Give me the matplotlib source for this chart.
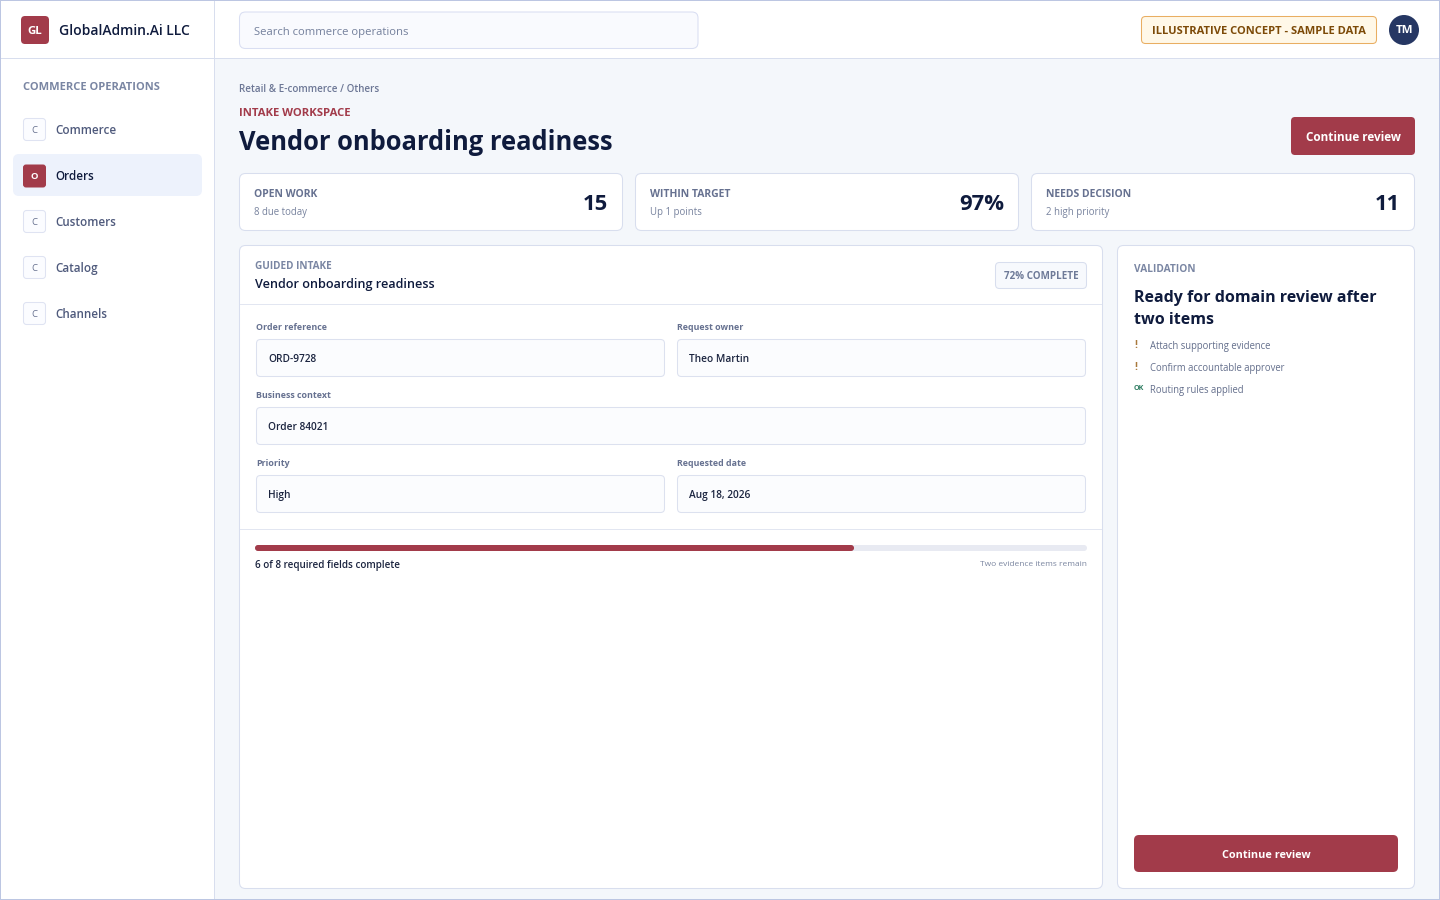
# plot.py - vendor onboarding workspace screen
import matplotlib
matplotlib.use("Agg")
import matplotlib.pyplot as plt
from matplotlib.patches import FancyBboxPatch, Circle, Rectangle

plt.rcParams["font.family"] = ["Open Sans", "DejaVu Sans"]

# Data
company = "GlobalAdmin.Ai LLC"
search_hint = "Search commerce operations"
sample_note = "ILLUSTRATIVE CONCEPT - SAMPLE DATA"
nav_items = ["Commerce", "Orders", "Customers", "Catalog", "Channels"]
nav_icons = ["C", "O", "C", "C", "C"]
active_nav = "Orders"
kpi_labels = ["OPEN WORK", "WITHIN TARGET", "NEEDS DECISION"]
kpi_values = ["15", "97%", "11"]
kpi_notes = ["8 due today", "Up 1 points", "2 high priority"]
field_labels = ["Order reference", "Request owner", "Business context", "Priority", "Requested date"]
field_values = ["ORD-9728", "Theo Martin", "Order 84021", "High", "Aug 18, 2026"]
progress_pct = 72
check_marks = ["!", "!", "OK"]
check_items = ["Attach supporting evidence", "Confirm accountable approver", "Routing rules applied"]

# Colours
RED = "#a23b4a"
NAVY = "#0f1b3d"
SLATE = "#67718f"
LINE = "#d8deee"
BG = "#f4f7fb"

W, H = 1440, 900
fig = plt.figure(figsize=(W / 100, H / 100), dpi=100)
ax = fig.add_axes([0, 0, 1, 1])
ax.set_xlim(0, W)
ax.set_ylim(H, 0)
ax.axis("off")


def box(x0, y0, x1, y1, r=6, fc="white", ec=LINE, lw=0.75, z=2):
    ax.add_patch(FancyBboxPatch((x0 + r, y0 + r), x1 - x0 - 2 * r, y1 - y0 - 2 * r,
                                boxstyle=f"round,pad={r},rounding_size={r}",
                                fc=fc, ec=ec, lw=lw, zorder=z))


def rect(x0, y0, x1, y1, fc, z=1):
    ax.add_patch(Rectangle((x0, y0), x1 - x0, y1 - y0, fc=fc, ec="none", zorder=z))


def txt(x, y, s, px, color=NAVY, weight="normal", ha="left", va="center"):
    # px is the css-like font size, 1px = 0.72pt at dpi 100
    ax.text(x, y + 2, s, fontsize=px * 0.72, color=color, fontweight=weight, ha=ha,
            va=va, zorder=5)


# Page frame
rect(0, 0, W, H, BG, z=0)
rect(0, 0, W, 58, "white")
rect(0, 0, 214, H, "white")
rect(0, 58, W, 59, LINE, z=1.5)
rect(214, 0, 215, H, LINE, z=1.5)
rect(0, 0, W, 1, "#bcc6e2", z=6)
rect(0, 0, 1, H, "#bcc6e2", z=6)
rect(1439, 0, W, H, "#bcc6e2", z=6)
rect(0, 899, W, H, "#bcc6e2", z=6)

# Top bar
box(21, 16, 49, 44, r=4, fc=RED, ec="none")
txt(35, 29.5, "GL", 11.5, "white", "bold", "center")
txt(59, 29, company, 13.9, NAVY, "semibold")
box(239.5, 12, 698, 48.5, r=6, fc="#f9fafe", ec="#d9def2")
txt(254, 30, search_hint, 11.3, "#74809c")
box(1141.5, 16.5, 1376.5, 43.5, r=4, fc="#fff8e8", ec="#e9ae62")
txt(1259, 29, sample_note, 11.1, "#7c4a08", "bold", "center")
ax.add_patch(Circle((1404, 30), 15, fc="#263763", ec="none", zorder=3))
txt(1404, 28.5, "TM", 11.5, "white", "bold", "center")

# Sidebar
txt(23, 85, "COMMERCE OPERATIONS", 11.1, "#7a86a3", "bold")
box(13, 154, 202, 196, r=6, fc="#edf2fc", ec="none")
for i, (item, icon) in enumerate(zip(nav_items, nav_icons)):
    cy = 129.5 + i * 46
    on = item == active_nav
    if on:
        box(23, cy - 11, 46, cy + 12, r=3, fc=RED, ec="none")
    else:
        box(23.5, cy - 11, 45.5, cy + 11, r=3, fc="#fbfcff", ec="#dfe3f2")
    txt(34.5, cy - 1, icon, 9.5, "white" if on else SLATE, "bold" if on else "normal", "center")
    txt(55.5, cy - 1, item, 11.6, NAVY if on else "#4f5a7c", "semibold")

# Heading
txt(239, 87, "Retail & E-commerce / Others", 9.9, "#6c7795", "semibold")
txt(239, 111, "INTAKE WORKSPACE", 11.3, RED, "bold")
txt(239, 141, "Vendor onboarding readiness", 25.5, NAVY, "bold")
box(1291, 117, 1415, 155, r=4, fc=RED, ec="none")
txt(1353, 135.5, "Continue review", 11.8, "white", "bold", "center")

# KPI cards
kpi_x = [(239, 623), (635, 1019), (1031, 1415)]
for (x0, x1), label, value, note in zip(kpi_x, kpi_labels, kpi_values, kpi_notes):
    box(x0 + 0.5, 173.5, x1 - 0.5, 230.5, r=6)
    txt(x0 + 15, 192.4, label, 10.4, "#667190", "bold")
    txt(x0 + 15, 210, note, 9.6, "#78839e")
    txt(x1 - 15, 202, value, 22, NAVY, "bold", "right")

# Intake panel
box(239.5, 245.5, 1102.5, 888.5, r=6)
txt(255, 264.4, "GUIDED INTAKE", 10, "#7a86a3", "bold")
txt(255, 282.4, "Vendor onboarding readiness", 12.6, NAVY, "semibold")
box(995.5, 262.5, 1086.5, 288.5, r=4, fc="#f7f9fd", ec=LINE)
txt(1041, 274.4, "72% COMPLETE", 9.9, "#6e7a98", "bold", "center")
rect(240, 304, 1102, 305, "#e2e6f1", z=3)
rect(240, 529, 1102, 530, "#e2e6f1", z=3)

field_boxes = [(256, 339, 665, 377), (677, 339, 1086, 377), (256, 407, 1086, 445),
               (256, 475, 665, 513), (677, 475, 1086, 513)]
for (x0, y0, x1, y1), label, value in zip(field_boxes, field_labels, field_values):
    txt(x0, y0 - 13, label, 8.9, "#667190", "bold")
    box(x0 + 0.5, y0 + 0.5, x1 - 0.5, y1 - 0.5, r=4, fc="#fbfcfe", ec="#dce1ef")
    txt(x0 + 12, y0 + 21, value, 10.15, "#1c2540", "semibold", va="baseline")

# Progress bar
bar_x0, bar_x1 = 255, 1087
fill_x1 = bar_x0 + (bar_x1 - bar_x0) * progress_pct / 100
box(bar_x0, 545, bar_x1, 551, r=3, fc="#e8eaf2", ec="none", z=3)
box(bar_x0, 545, fill_x1, 551, r=3, fc=RED, ec="none", z=4)
txt(255, 563.4, "6 of 8 required fields complete", 9.9, "#1c2540", "semibold")
txt(1087, 562.9, "Two evidence items remain", 8.4, "#7b86a0", "normal", "right")

# Validation panel
box(1117.5, 245.5, 1414.5, 888.5, r=6)
txt(1134, 267, "VALIDATION", 10.1, "#7a86a3", "bold")
txt(1134.5, 295.6, "Ready for domain review after", 16, NAVY, "bold")
txt(1134.5, 317.6, "two items", 16, NAVY, "bold")
for i, (mark, item) in enumerate(zip(check_marks, check_items)):
    cy = 345 + i * 22
    if mark == "OK":
        txt(1134, cy - 3, mark, 7.2, "#2f7d62", "bold")
    else:
        txt(1134, cy - 1, mark, 10, "#a9793c", "bold")
    txt(1150.5, cy, item, 9.55, "#646f8c")
box(1134, 835, 1398, 872, r=5, fc=RED, ec="none")
txt(1266, 854, "Continue review", 10.9, "white", "bold", "center")

fig.savefig("out.png", dpi=100)
